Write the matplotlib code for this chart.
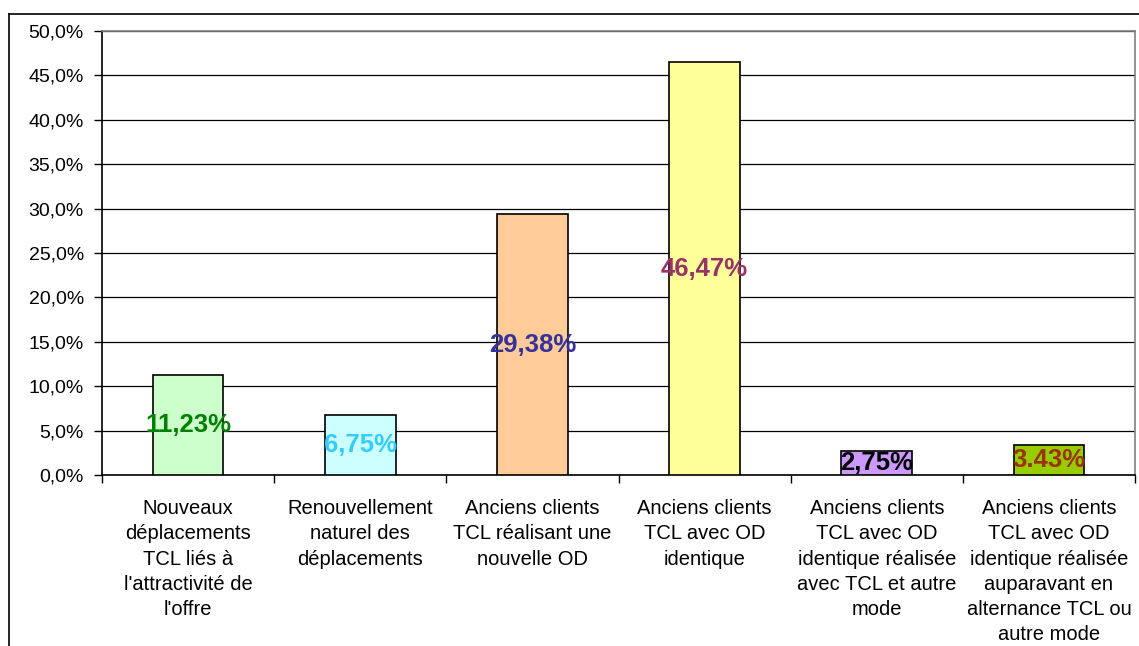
import numpy as np
import matplotlib.pyplot as plt
from matplotlib.lines import Line2D
from matplotlib.ticker import FuncFormatter

plt.rcParams['font.family'] = ['Liberation Sans', 'DejaVu Sans']

# donnees
categories = [
    "Nouveaux\ndéplacements\nTCL liés à\nl'attractivité de\nl'offre",
    "Renouvellement\nnaturel des\ndéplacements",
    "Anciens clients\nTCL réalisant une\nnouvelle OD",
    "Anciens clients\nTCL avec OD\nidentique",
    "Anciens clients\nTCL avec OD\nidentique réalisée\navec TCL et autre\nmode",
    "Anciens clients\nTCL avec OD\nidentique réalisée\nauparavant en\nalternance TCL ou\nautre mode",
]
values = [11.23, 6.75, 29.38, 46.47, 2.75, 3.43]
value_labels = ["11,23%", "6,75%", "29,38%", "46,47%", "2,75%", "3.43%"]
bar_colors = ["#CCFFCC", "#CCFFFF", "#FFCC99", "#FFFF99", "#CC99FF", "#99CC00"]
label_colors = ["#008000", "#33CCFF", "#333399", "#993366", "#000000", "#993300"]

fig = plt.figure(figsize=(11.39, 6.46), dpi=100)
ax = fig.add_axes([102 / 1139, 1 - 475 / 646, (1135 - 102) / 1139, (475 - 31) / 646])

x = np.arange(len(values))
ax.bar(x, values, width=0.41, color=bar_colors, edgecolor="black", linewidth=1.2, zorder=3)

for xi, v, lab, c in zip(x, values, value_labels, label_colors):
    ax.text(xi, v / 2, lab, ha="center", va="center", fontsize=18.5,
            fontweight="bold", color=c, zorder=4)

ax.set_xlim(-0.5, len(values) - 0.5)
ax.set_ylim(0, 50)
ax.set_yticks(np.arange(0, 51, 5))
ax.yaxis.set_major_formatter(FuncFormatter(lambda v, p: f"{v:.1f}%".replace(".", ",")))
ax.grid(axis="y", color="black", linewidth=0.9, zorder=0)

# ticks aux limites des categories, etiquettes au centre
ax.set_xticks(np.arange(-0.5, len(values), 1.0))
ax.set_xticklabels([])
ax.set_xticks(x, minor=True)
ax.set_xticklabels(categories, minor=True, fontsize=14.5, linespacing=1.41, va="top")
ax.tick_params(axis="x", which="minor", length=0, pad=17.5)
ax.tick_params(axis="x", which="major", length=6, width=1, direction="out")
ax.tick_params(axis="y", length=6, width=1, direction="out", labelsize=14, pad=7)

for side in ["top", "right"]:
    ax.spines[side].set_color("#808080")
    ax.spines[side].set_linewidth(1.2)
for side in ["left", "bottom"]:
    ax.spines[side].set_linewidth(1.2)

# cadre du graphique
fx = 8.5 / 1139
fy = 1 - 13.5 / 646
fig.add_artist(Line2D([fx, fx], [0, fy], color="black", linewidth=1.2, transform=fig.transFigure))
fig.add_artist(Line2D([fx, 1.0], [fy, fy], color="black", linewidth=1.2, transform=fig.transFigure))

fig.savefig("out.png", dpi=100)
